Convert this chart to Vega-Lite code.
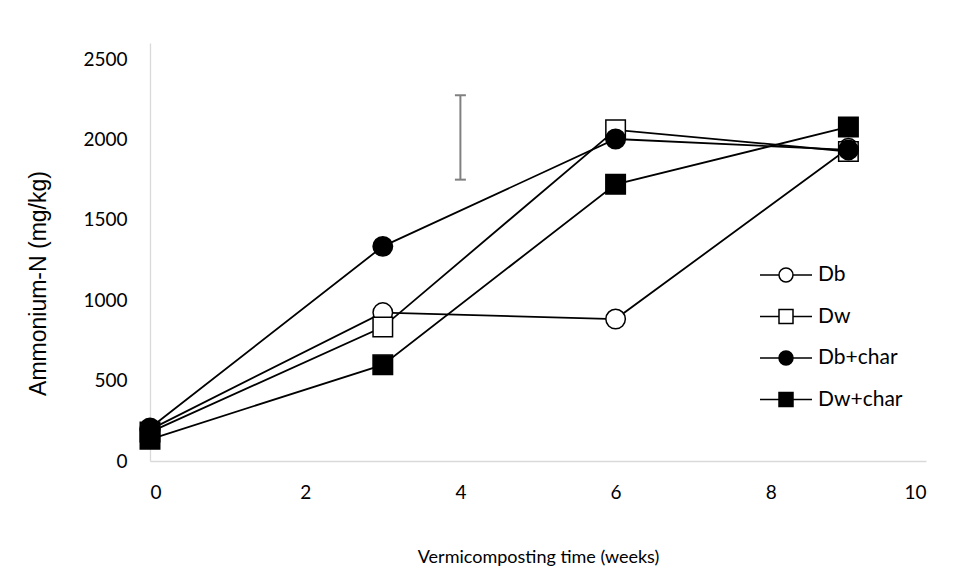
{
  "$schema": "https://vega.github.io/schema/vega-lite/v6.json",
  "width": 776,
  "height": 418,
  "autosize": {"type": "none"},
  "padding": {"left": 150, "top": 43, "right": 31, "bottom": 116},
  "background": "white",
  "config": {
    "view": {"stroke": null},
    "font": "Lato",
    "axis": {
      "domainColor": "#d9d9d9",
      "domainWidth": 1.3,
      "ticks": false,
      "grid": false,
      "labelFont": "Lato",
      "labelFontSize": 19,
      "labelColor": "black",
      "titleFont": "Lato",
      "titleFontSize": 18,
      "titleFontWeight": "normal",
      "titleColor": "black",
      "format": "d"
    },
    "axisX": {"labelPadding": 22, "titlePadding": 46},
    "axisY": {"labelPadding": 23, "titlePadding": 32, "titleFont": "Liberation Sans", "titleFontSize": 23, "titleY": 240},
    "legend": {
      "title": null,
      "orient": "none",
      "padding": 0,
      "rowPadding": 20.5,
      "symbolSize": 400,
      "symbolStrokeWidth": 1.5,
      "labelFont": "Lato",
      "labelFontSize": 21,
      "labelColor": "black",
      "labelOffset": 21
    }
  },
  "datasets": {
    "series": [
      {"series": "Db", "week": 0, "ammonium": 195},
      {"series": "Db", "week": 3, "ammonium": 923},
      {"series": "Db", "week": 6, "ammonium": 883},
      {"series": "Db", "week": 9, "ammonium": 1945},
      {"series": "Dw", "week": 0, "ammonium": 180},
      {"series": "Dw", "week": 3, "ammonium": 833},
      {"series": "Dw", "week": 6, "ammonium": 2060},
      {"series": "Dw", "week": 9, "ammonium": 1925},
      {"series": "Db+char", "week": 0, "ammonium": 205},
      {"series": "Db+char", "week": 3, "ammonium": 1335},
      {"series": "Db+char", "week": 6, "ammonium": 2003},
      {"series": "Db+char", "week": 9, "ammonium": 1935},
      {"series": "Dw+char", "week": 0, "ammonium": 135},
      {"series": "Dw+char", "week": 3, "ammonium": 598},
      {"series": "Dw+char", "week": 6, "ammonium": 1721},
      {"series": "Dw+char", "week": 9, "ammonium": 2078}
    ],
    "err": [{"week": 4, "low": 1750, "high": 2275}]
  },
  "resolve": {
    "scale": {"shape": "independent", "fill": "independent", "stroke": "independent"},
    "legend": {"shape": "independent", "fill": "independent", "stroke": "independent"}
  },
  "layer": [
    {
      "data": {"name": "err"},
      "mark": {"type": "rule", "color": "#808080", "strokeWidth": 2},
      "encoding": {
        "x": {"field": "week", "type": "quantitative", "title": "Vermicomposting time (weeks)", "scale": {"domain": [0, 10]}},
        "y": {"field": "low", "type": "quantitative", "title": "Ammonium-N (mg/kg)", "scale": {"domain": [0, 2500]}},
        "y2": {"field": "high"}
      }
    },
    {
      "data": {"name": "err"},
      "mark": {"type": "tick", "orient": "horizontal", "size": 11, "thickness": 2, "color": "#808080", "opacity": 1},
      "encoding": {
        "x": {"field": "week", "type": "quantitative", "title": "Vermicomposting time (weeks)"},
        "y": {"field": "low", "type": "quantitative", "title": "Ammonium-N (mg/kg)"}
      }
    },
    {
      "data": {"name": "err"},
      "mark": {"type": "tick", "orient": "horizontal", "size": 11, "thickness": 2, "color": "#808080", "opacity": 1},
      "encoding": {
        "x": {"field": "week", "type": "quantitative", "title": "Vermicomposting time (weeks)"},
        "y": {"field": "high", "type": "quantitative", "title": "Ammonium-N (mg/kg)"}
      }
    },
    {
      "data": {"name": "series"},
      "mark": {"type": "line", "color": "black", "strokeWidth": 1.8},
      "encoding": {
        "x": {"field": "week", "type": "quantitative", "title": "Vermicomposting time (weeks)", "scale": {"domain": [0, 10]}, "axis": {"values": [0, 2, 4, 6, 8, 10]}},
        "y": {"field": "ammonium", "type": "quantitative", "title": "Ammonium-N (mg/kg)", "scale": {"domain": [0, 2500]}, "axis": {"values": [0, 500, 1000, 1500, 2000, 2500]}},
        "detail": {"field": "series"}
      }
    },
    {
      "data": {"name": "series"},
      "mark": {"type": "point", "size": 380, "stroke": "black", "strokeWidth": 1.5, "opacity": 1, "filled": true},
      "encoding": {
        "x": {"field": "week", "type": "quantitative", "title": "Vermicomposting time (weeks)"},
        "y": {"field": "ammonium", "type": "quantitative", "title": "Ammonium-N (mg/kg)"},
        "shape": {
          "field": "series",
          "type": "nominal",
          "scale": {"domain": ["Db", "Dw", "Db+char", "Dw+char"], "range": ["circle", "square", "circle", "square"]},
          "legend": null
        },
        "fill": {
          "field": "series",
          "type": "nominal",
          "scale": {"domain": ["Db", "Dw", "Db+char", "Dw+char"], "range": ["white", "white", "black", "black"]},
          "legend": null
        }
      }
    },
    {
      "data": {"values": []},
      "mark": {"type": "point", "strokeWidth": 1.5, "opacity": 1, "filled": true},
      "encoding": {
        "shape": {
          "field": "series",
          "type": "nominal",
          "scale": {
            "domain": ["Db", "Dw", "Db+char", "Dw+char"],
            "range": [
              "M-2.6,0L-0.7,0M0.7,0L2.6,0M-0.7,0A0.7,0.7 0 1,0 0.7,0A0.7,0.7 0 1,0 -0.7,0Z",
              "M-2.6,0L-0.7,0M0.7,0L2.6,0M-0.7,-0.7L0.7,-0.7L0.7,0.7L-0.7,0.7Z",
              "M-2.6,0L-0.7,0M0.7,0L2.6,0M-0.7,0A0.7,0.7 0 1,0 0.7,0A0.7,0.7 0 1,0 -0.7,0Z",
              "M-2.6,0L-0.7,0M0.7,0L2.6,0M-0.7,-0.7L0.7,-0.7L0.7,0.7L-0.7,0.7Z"
            ]
          },
          "legend": {"legendX": 625, "legendY": 221}
        },
        "fill": {
          "field": "series",
          "type": "nominal",
          "scale": {"domain": ["Db", "Dw", "Db+char", "Dw+char"], "range": ["white", "white", "black", "black"]},
          "legend": {"legendX": 625, "legendY": 221}
        },
        "stroke": {
          "field": "series",
          "type": "nominal",
          "scale": {"domain": ["Db", "Dw", "Db+char", "Dw+char"], "range": ["black", "black", "black", "black"]},
          "legend": {"legendX": 625, "legendY": 221}
        }
      }
    }
  ]
}
